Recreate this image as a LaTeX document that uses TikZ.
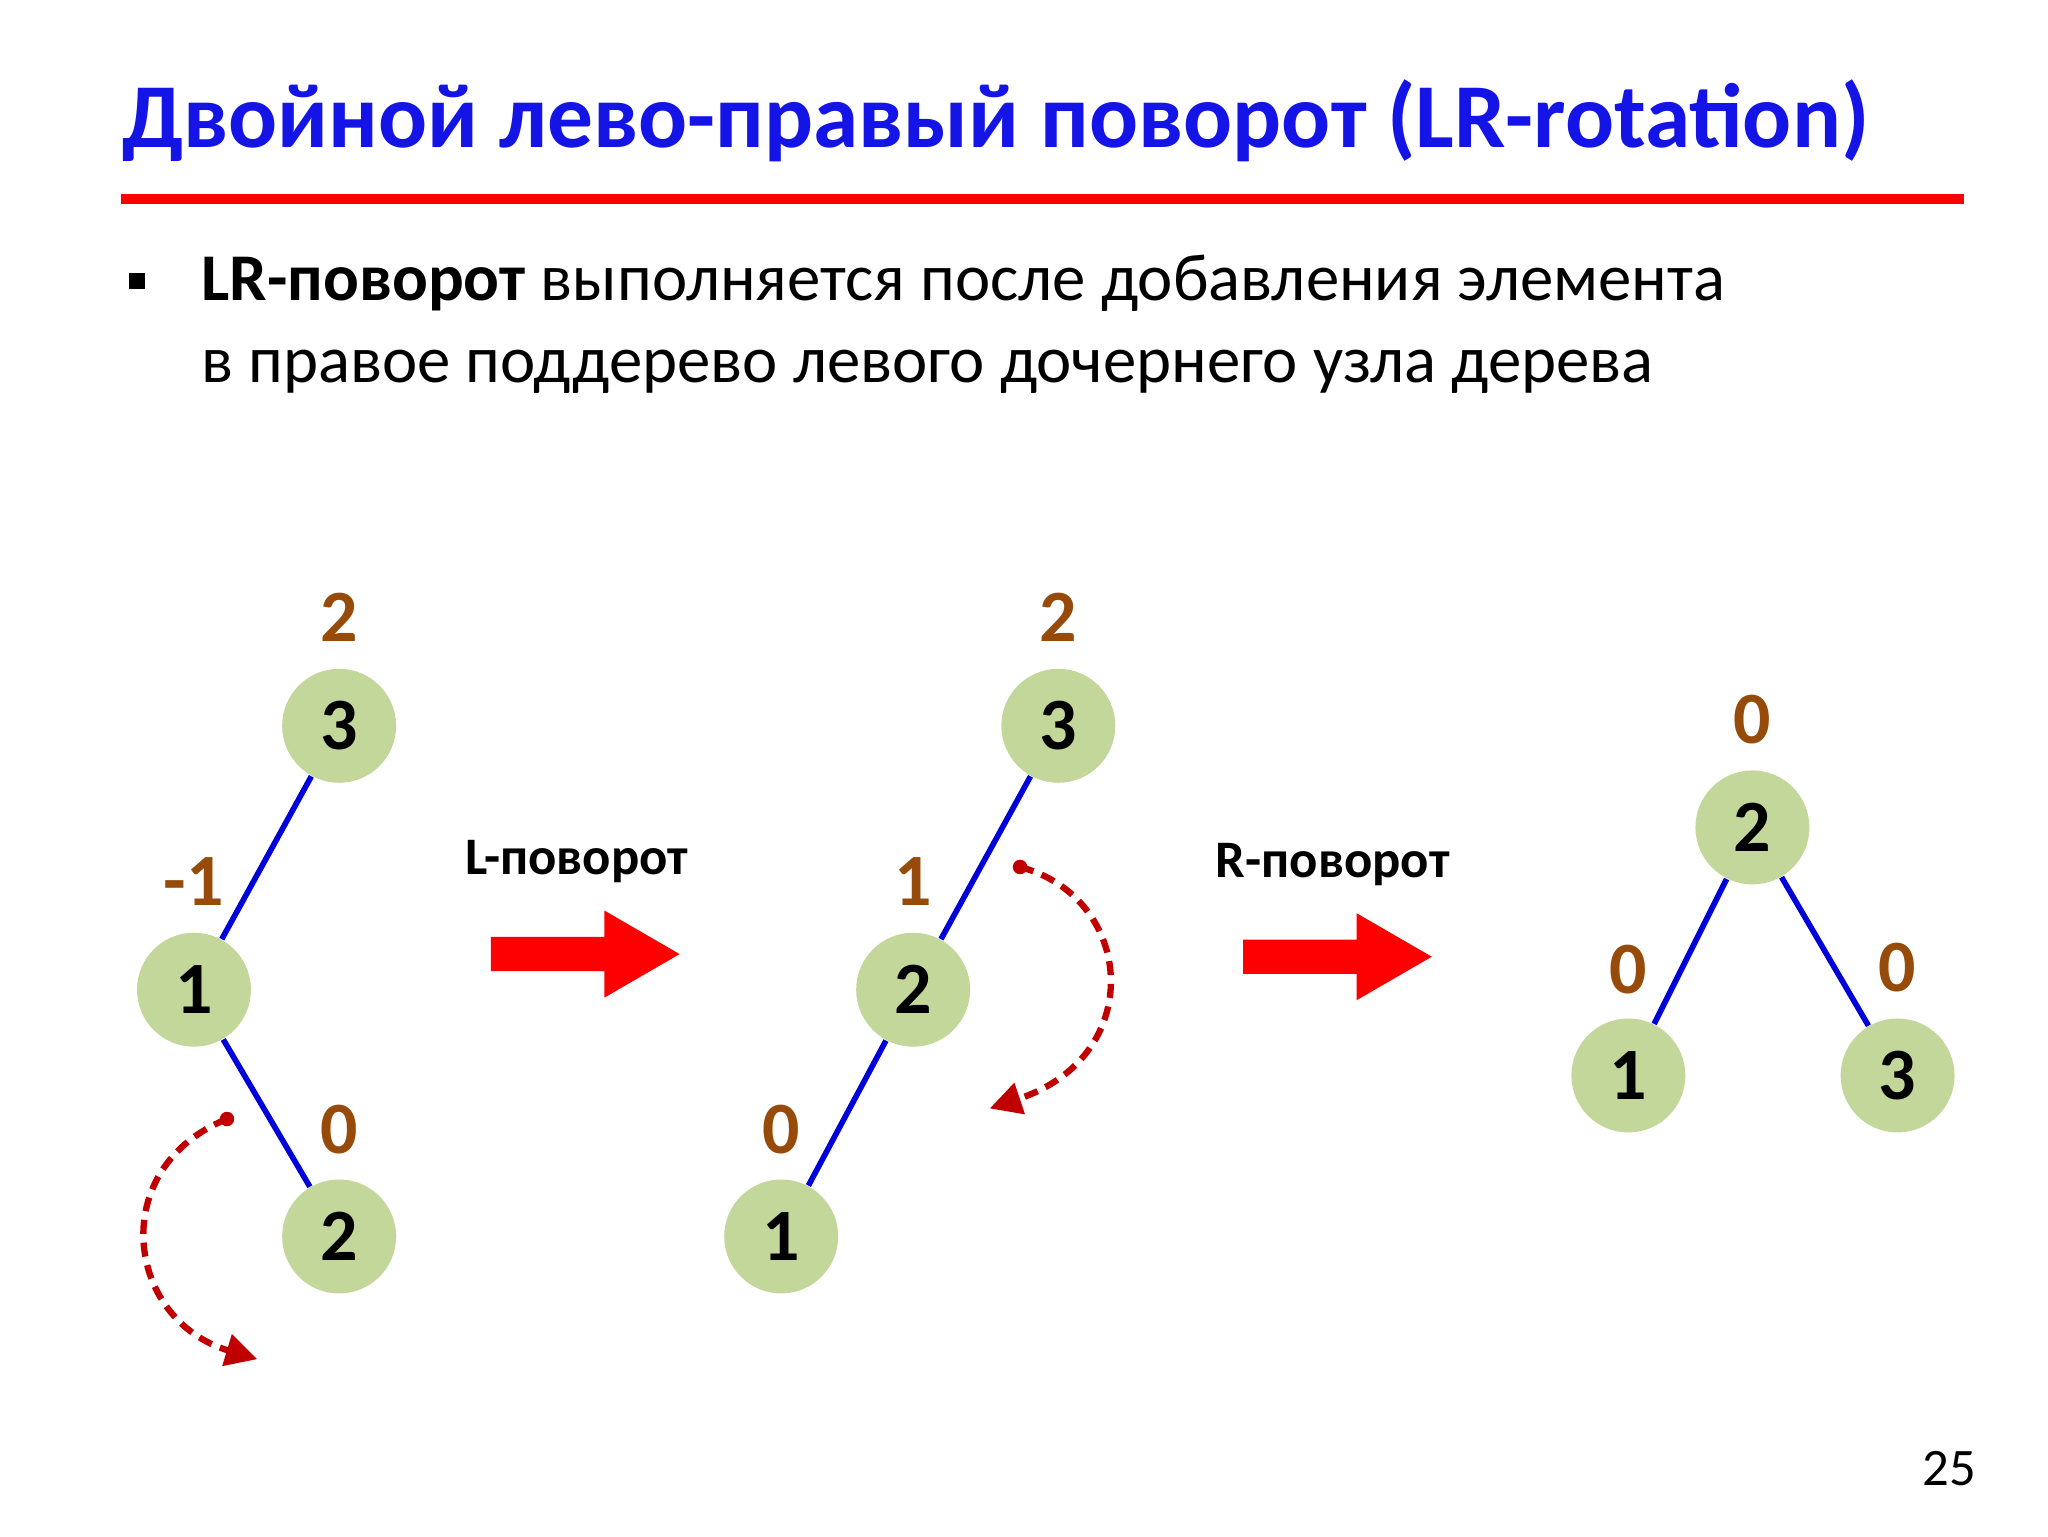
\documentclass[tikz,border=0pt]{standalone}
\usepackage{fontspec}
\setmainfont{Carlito}
\usetikzlibrary{arrows.meta}
\definecolor{nodeg}{RGB}{196,215,155}
\definecolor{bal}{RGB}{150,75,10}
\definecolor{dred}{RGB}{192,0,0}
\definecolor{tblue}{RGB}{20,20,230}
\begin{document}
\begin{tikzpicture}[x=0.013196cm,y=-0.013196cm,
 tn/.style={circle,fill=nodeg,minimum size=1.14cm,inner sep=0pt,font=\fontsize{21}{24}\selectfont\bfseries},
 bl/.style={text=bal,font=\fontsize{21}{24}\selectfont\bfseries},
 ed/.style={draw=blue!85!black,line width=1.6pt},
 rot/.style={dash pattern=on 4pt off 2.5pt,draw=dred,line width=1.8pt,-{Triangle[length=9pt,width=9pt]}},
 lab/.style={font=\fontsize{15}{18}\selectfont\bfseries}]
\useasboundingbox (0,0) rectangle (1552,1164);
\fill[white] (0,0) rectangle (1552,1164);
\node[anchor=base west,text=tblue,font=\fontsize{26}{30}\selectfont\bfseries,inner sep=0] (title) at (92,112) {Двойной лево-правый поворот (LR-rotation)};
\draw[red,line width=2.8pt] (92,151) -- (1488,151);
\fill (98,207) rectangle (110,219);
\node[anchor=base west,inner sep=0,font=\fontsize{19}{24}\selectfont,align=left] (txt) at (152,228) {\textbf{LR-поворот} выполняется после добавления элемента};
\node[anchor=base west,inner sep=0,font=\fontsize{19}{24}\selectfont] (txt2) at (152,290) {в правое поддерево левого дочернего узла дерева};
% tree 1
\node[tn] (a3) at (257,550) {3};
\node[tn] (a1) at (147,750) {1};
\node[tn] (a2) at (257,937) {2};
\draw[ed] (a3) -- (a1); \draw[ed] (a1) -- (a2);
\node[bl] at (257,468) {2};
\node[bl] at (147,668) {-1};
\node[bl] at (257,856) {0};
\fill[dred] (172,848) circle (5.5);
\coordinate (s1) at (172,848); \coordinate (e1) at (195,1030);
\draw[rot] (s1) .. controls (80,885) and (95,1000) .. (e1);
% tree 2
\node[tn] (b3) at (802,550) {3};
\node[tn] (b2) at (692,750) {2};
\node[tn] (b1) at (592,937) {1};
\draw[ed] (b3) -- (b2); \draw[ed] (b2) -- (b1);
\node[bl] at (802,468) {2};
\node[bl] at (692,668) {1};
\node[bl] at (592,856) {0};
\fill[dred] (773,657) circle (5.5);
\coordinate (s2) at (773,657); \coordinate (e2) at (750,840);
\draw[rot] (s2) .. controls (860,680) and (870,800) .. (e2);
% tree 3
\node[tn] (c2) at (1328,627) {2};
\node[tn] (c1) at (1234,815) {1};
\node[tn] (c3) at (1438,815) {3};
\draw[ed] (c2) -- (c1); \draw[ed] (c2) -- (c3);
\node[bl] at (1328,545) {0};
\node[bl] at (1234,735) {0};
\node[bl] at (1438,733) {0};
% arrows
\fill[red] (372,710) -- (458,710) -- (458,690) -- (515,723) -- (458,756) -- (458,736) -- (372,736) -- cycle;
\fill[red] (942,712) -- (1028,712) -- (1028,692) -- (1085,725) -- (1028,758) -- (1028,738) -- (942,738) -- cycle;
\node[lab] at (437,653) {L-поворот};
\node[lab] at (1010,655) {R-поворот};
\node[font=\fontsize{15}{18}\selectfont] at (1477,1113) {25};
\end{tikzpicture}
\end{document}
